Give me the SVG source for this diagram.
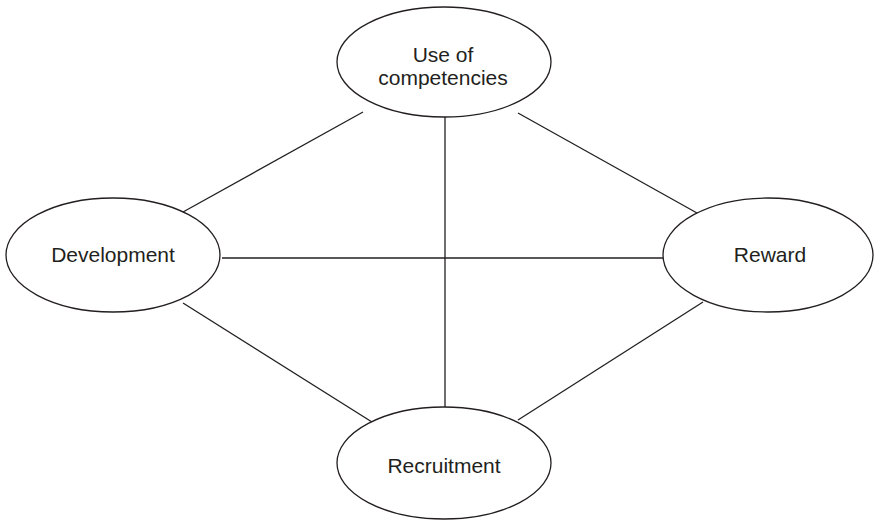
<svg xmlns="http://www.w3.org/2000/svg" width="875" height="521" viewBox="0 0 875 521">
<style>
.n{fill:#fff;stroke:#231f20;stroke-width:1.3}
.t{font-family:"Liberation Sans",Arial,sans-serif;font-size:21px;fill:#231f20;text-anchor:middle}
.c line{stroke:#231f20;stroke-width:1.3}
</style>
<rect width="875" height="521" fill="#fff"/>
<g class="c" id="connectors">
<line x1="363" y1="112" x2="183" y2="212"/>
<line x1="518" y1="113" x2="697" y2="213"/>
<line x1="445" y1="114" x2="445" y2="408"/>
<line x1="222" y1="258" x2="663" y2="258"/>
<line x1="183" y1="303" x2="372" y2="422"/>
<line x1="703" y1="302" x2="518" y2="420"/>
</g>
<g id="use-of-competencies">
<ellipse class="n" cx="444" cy="62" rx="107" ry="55"/>
<text class="t" x="443" y="62">Use of</text>
<text class="t" x="443" y="85">competencies</text>
</g>
<g id="development">
<ellipse class="n" cx="113" cy="255" rx="107" ry="57"/>
<text class="t" x="113" y="262">Development</text>
</g>
<g id="reward">
<ellipse class="n" cx="768" cy="255" rx="105" ry="57"/>
<text class="t" x="770" y="262">Reward</text>
</g>
<g id="recruitment">
<ellipse class="n" cx="444" cy="463" rx="107" ry="56"/>
<text class="t" x="444" y="473">Recruitment</text>
</g>
</svg>
